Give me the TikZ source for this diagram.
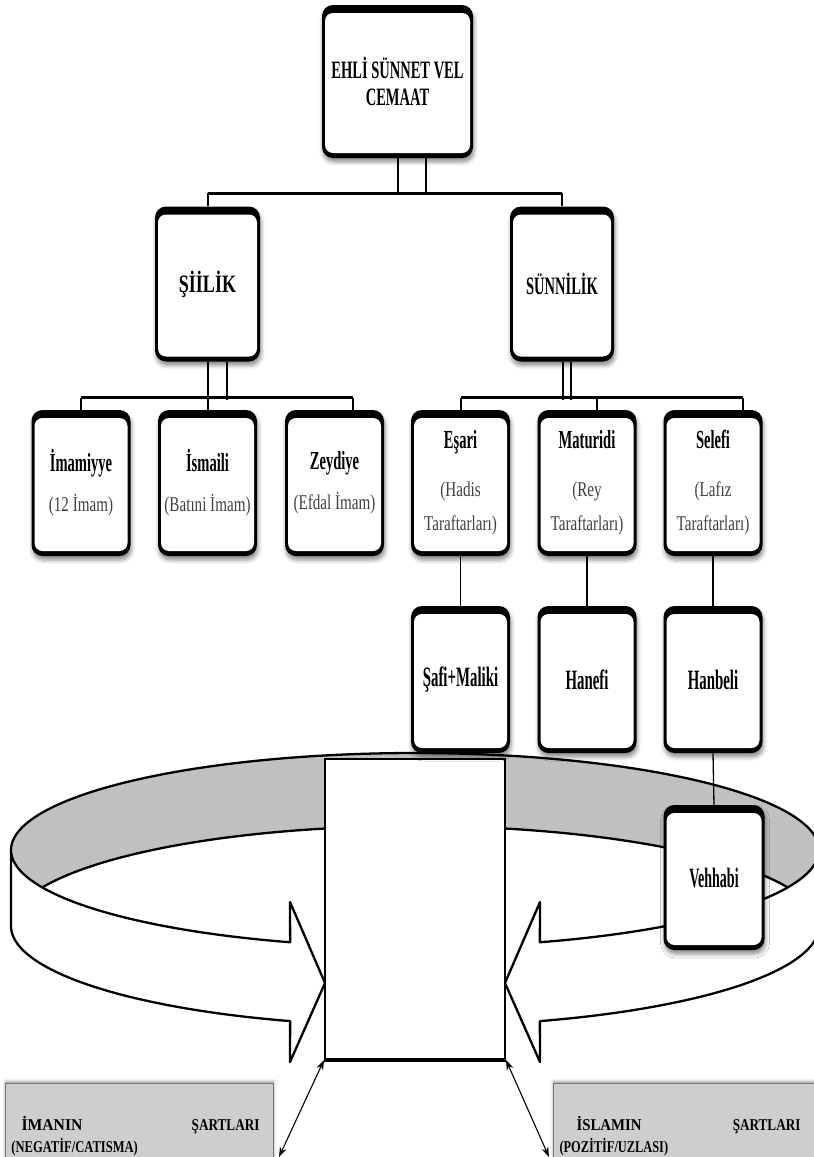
\documentclass[tikz,border=0pt]{standalone}
\usepackage{fontspec}
\setmainfont{Liberation Serif}
\usetikzlibrary{shadows.blur,arrows.meta,calc}
\definecolor{ringgray}{RGB}{192,192,192}
\definecolor{boxgray}{RGB}{206,206,206}
\newcommand{\tl}[2]{\scalebox{#1}[1]{#2}}
\begin{document}
\begin{tikzpicture}[x=1pt,y=-1pt,
  rbox/.style={rectangle, rounded corners=11pt, fill=black, inner sep=0pt, align=center,
    blur shadow={shadow xshift=1pt, shadow yshift=-4pt, shadow blur radius=4pt, shadow opacity=45},
    path picture={\fill[white, rounded corners=8pt]
      ([xshift=3pt,yshift=5pt]path picture bounding box.south west) rectangle
      ([xshift=-3pt,yshift=-8pt]path picture bounding box.north east);}},
  lv3/.style={rbox, minimum width=99pt, minimum height=146pt},
  lv4/.style={rbox, minimum width=99pt, minimum height=147pt, font=\fontsize{28}{30}\selectfont\bfseries},
  gbox/.style={rectangle, fill=boxgray, draw=black!55, line width=1pt, inner xsep=6pt, inner ysep=0pt,
    anchor=north west, minimum width=268pt, minimum height=106pt, text width=256pt, align=left,
    font=\fontsize{16.5}{22}\selectfont\bfseries,
    blur shadow={shadow xshift=0pt, shadow yshift=2pt, shadow blur radius=3pt, shadow opacity=40}},
  ctrbox/.style={rectangle, draw, line width=2pt, fill=white, inner sep=0pt, minimum width=180pt, minimum height=300pt},
  barln/.style={line width=3.2pt},
  stemln/.style={line width=2pt},
  thinln/.style={line width=1.3pt},
  ringln/.style={line width=2.3pt, line join=round},
  arrowln/.style={line width=1.1pt, {Stealth[length=10pt,width=7pt]}-{Stealth[length=10pt,width=7pt]}},
]
\useasboundingbox (0,0) rectangle (814,1157);
\clip (0,0) rectangle (814,1157);

% ---- ring (3D circular arrow) ----
\fill[ringgray] (415,850) ellipse [x radius=404pt, y radius=97pt];
\fill[white] (415,926) ellipse [x radius=404pt, y radius=100pt];
\draw[ringln] plot[domain=180:360, samples=140] ({415+404*cos(\x)},{850+97*sin(\x)});
\draw[ringln] plot[domain=202.7:337.3, samples=120] ({415+404*cos(\x)},{926+100*sin(\x)});
\filldraw[ringln, fill=white] plot[domain=180:108, samples=60] ({415+404*cos(\x)},{850+97*sin(\x)})
  -- (290,902) -- (325,983) -- (290,1062)
  -- plot[domain=108:180, samples=60] ({415+404*cos(\x)},{926+100*sin(\x)}) -- cycle;
\filldraw[ringln, fill=white] plot[domain=0:72, samples=60] ({415+404*cos(\x)},{850+97*sin(\x)})
  -- (540,902) -- (505,983) -- (540,1062)
  -- plot[domain=72:0, samples=60] ({415+404*cos(\x)},{926+100*sin(\x)}) -- cycle;

% ---- centre rectangle ----
\node[ctrbox] (ctr) at (415,909) {};
\draw[line width=4pt] (ctr.south west) -- (ctr.south east);

% ---- boxes ----
\node[rbox, minimum width=151pt, minimum height=153pt, font=\fontsize{25}{27}\selectfont\bfseries]
  (top) at (397.5,81.5) {\tl{0.58}{EHLİ SÜNNET VEL}\\\tl{0.58}{CEMAAT}};
\node[rbox, minimum width=105pt, minimum height=155pt, font=\fontsize{25}{27}\selectfont\bfseries]
  (sii) at (207.5,284) {\tl{0.72}{ŞİİLİK}};
\node[rbox, minimum width=104pt, minimum height=155pt, font=\fontsize{25}{27}\selectfont\bfseries]
  (sun) at (562,284) {\tl{0.58}{SÜNNİLİK}};

\node[lv3, font=\fontsize{21}{34}\selectfont] (imam) at (81,483)
  {\textbf{\fontsize{26}{34}\selectfont\tl{0.56}{İmamiyye}}\\[6pt]\textcolor{black!75}{\tl{0.72}{(12 İmam)}}};
\node[lv3, font=\fontsize{21}{34}\selectfont] (ism) at (207.5,483)
  {\textbf{\fontsize{26}{34}\selectfont\tl{0.56}{İsmaili}}\\[6pt]\textcolor{black!75}{\tl{0.72}{(Batıni İmam)}}};
\node[lv3, font=\fontsize{21}{34}\selectfont] (zey) at (334.5,483)
  {\textbf{\fontsize{26}{34}\selectfont\tl{0.56}{Zeydiye}}\\[6pt]\textcolor{black!75}{\tl{0.72}{(Efdal İmam)}}};
\node[lv3, font=\fontsize{21}{34}\selectfont] (esa) at (460.5,483)
  {\textbf{\fontsize{26}{34}\selectfont\tl{0.56}{Eşari}}\\[14pt]\textcolor{black!75}{\tl{0.72}{(Hadis}}\\\textcolor{black!75}{\tl{0.72}{Taraftarları)}}};
\node[lv3, font=\fontsize{21}{34}\selectfont] (mat) at (587,483)
  {\textbf{\fontsize{26}{34}\selectfont\tl{0.56}{Maturidi}}\\[14pt]\textcolor{black!75}{\tl{0.72}{(Rey}}\\\textcolor{black!75}{\tl{0.72}{Taraftarları)}}};
\node[lv3, font=\fontsize{21}{34}\selectfont] (sel) at (713,483)
  {\textbf{\fontsize{26}{34}\selectfont\tl{0.56}{Selefi}}\\[14pt]\textcolor{black!75}{\tl{0.72}{(Lafız}}\\\textcolor{black!75}{\tl{0.72}{Taraftarları)}}};

\node[lv4] (saf) at (460.5,679.5) {\tl{0.53}{Şafi+Maliki}};
\node[lv4] (han) at (587,679.5) {\tl{0.53}{Hanefi}};
\node[lv4] (hab) at (713,679.5) {\tl{0.53}{Hanbeli}};
\node[lv4, minimum width=101pt, minimum height=145pt] (veh) at (714,877.5) {\tl{0.5}{Vehhabi}};

\node[gbox] (iman) at (5,1083)
  {\makebox[256pt][l]{\hspace*{10pt}\tl{0.95}{İMANIN}\hfill\tl{0.8}{ŞARTLARI}\hspace*{8pt}}\\\tl{0.76}{(NEGATİF/CATISMA)}};
\node[gbox] (islam) at (553,1083)
  {\makebox[256pt][l]{\hspace*{17pt}\tl{0.9}{İSLAMIN}\hfill\tl{0.8}{ŞARTLARI}\hspace*{15pt}}\\\tl{0.75}{(POZİTİF/UZLASI)}};

% ---- connectors ----
\draw[stemln] (top.south) -- ++(0,35);
\draw[stemln] ($(top.south)+(28,0)$) -- ++(0,35);
\draw[stemln] (sii.north) -- ++(0,-13);
\draw[stemln] (sun.north) -- ++(0,-13);
\draw[barln] ($(sii.north)+(0,-13)$) -- ($(sun.north)+(0,-13)$);

\draw[stemln] (sii.south) -- ++(0,38);
\draw[stemln] ($(sii.south)+(19,0)$) -- ++(0,38);
\draw[stemln] (imam.north) -- ++(0,-12);
\draw[stemln] (ism.north) -- ++(0,-12);
\draw[stemln] ($(zey.north)+(18,0)$) -- ++(0,-12);
\draw[barln] ($(imam.north)+(0,-12)$) -- ($(zey.north)+(18,-12)$);

\draw[stemln] ($(sun.south)+(1,0)$) -- ++(0,38);
\draw[stemln] ($(sun.south)+(9,0)$) -- ++(0,38);
\draw[stemln] (esa.north) -- ++(0,-12);
\draw[stemln] ($(mat.north)+(10,0)$) -- ++(0,-12);
\draw[stemln] ($(sel.north)+(30,0)$) -- ++(0,-12);
\draw[barln] ($(esa.north)+(0,-12)$) -- ($(sel.north)+(30,-12)$);

\draw[thinln] (esa.south) -- (saf.north);
\draw[thinln] (mat.south) -- (han.north);
\draw[thinln] (sel.south) -- (hab.north);
\draw[thinln] (hab.south) -- (veh.north);

\coordinate (aL) at (279,1157);
\coordinate (aR) at (549,1157);
\draw[arrowln] (ctr.south west) -- (aL);
\draw[arrowln] (ctr.south east) -- (aR);
\end{tikzpicture}
\end{document}
